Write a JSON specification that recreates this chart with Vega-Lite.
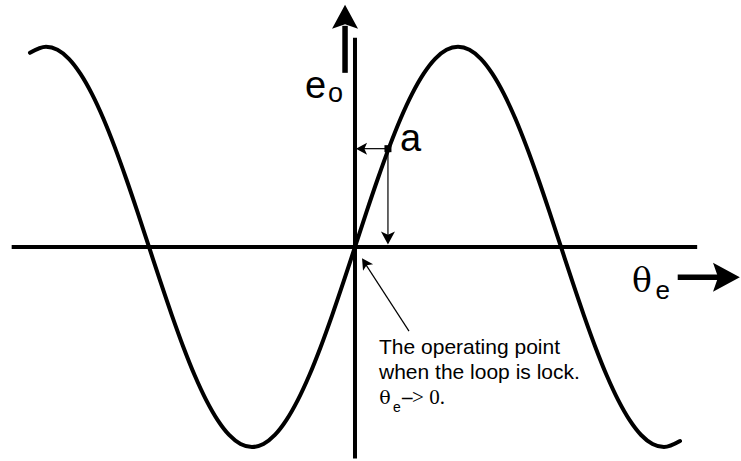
{
  "$schema": "https://vega.github.io/schema/vega-lite/v6.json",
  "width": 741,
  "height": 461,
  "autosize": {"type": "fit", "contains": "padding"},
  "padding": 0,
  "background": "white",
  "config": {"view": {"stroke": null}},
  "datasets": {
    "curve": [
      {"x": -284, "y": 0.97}, {"x": -270, "y": 1}, {"x": -260, "y": 0.985}, {"x": -250, "y": 0.94},
      {"x": -240, "y": 0.866}, {"x": -230, "y": 0.766}, {"x": -220, "y": 0.643}, {"x": -210, "y": 0.5},
      {"x": -200, "y": 0.342}, {"x": -190, "y": 0.174}, {"x": -180, "y": 0}, {"x": -170, "y": -0.174},
      {"x": -160, "y": -0.342}, {"x": -150, "y": -0.5}, {"x": -140, "y": -0.643}, {"x": -130, "y": -0.766},
      {"x": -120, "y": -0.866}, {"x": -110, "y": -0.94}, {"x": -100, "y": -0.985}, {"x": -90, "y": -1},
      {"x": -80, "y": -0.985}, {"x": -70, "y": -0.94}, {"x": -60, "y": -0.866}, {"x": -50, "y": -0.766},
      {"x": -40, "y": -0.643}, {"x": -30, "y": -0.5}, {"x": -20, "y": -0.342}, {"x": -10, "y": -0.174},
      {"x": 0, "y": 0}, {"x": 10, "y": 0.174}, {"x": 20, "y": 0.342}, {"x": 30, "y": 0.5},
      {"x": 40, "y": 0.643}, {"x": 50, "y": 0.766}, {"x": 60, "y": 0.866}, {"x": 70, "y": 0.94},
      {"x": 80, "y": 0.985}, {"x": 90, "y": 1}, {"x": 100, "y": 0.985}, {"x": 110, "y": 0.94},
      {"x": 120, "y": 0.866}, {"x": 130, "y": 0.766}, {"x": 140, "y": 0.643}, {"x": 150, "y": 0.5},
      {"x": 160, "y": 0.342}, {"x": 170, "y": 0.174}, {"x": 180, "y": 0}, {"x": 190, "y": -0.174},
      {"x": 200, "y": -0.342}, {"x": 210, "y": -0.5}, {"x": 220, "y": -0.643}, {"x": 230, "y": -0.766},
      {"x": 240, "y": -0.866}, {"x": 250, "y": -0.94}, {"x": 260, "y": -0.985}, {"x": 270, "y": -1},
      {"x": 284, "y": -0.97}
    ],
    "axes": [
      {"x": -300, "x2": 299, "y": 0, "y2": 0},
      {"x": 0, "x2": 0, "y": 1.045, "y2": -1.058}
    ],
    "shafts": [
      {"x": -8.7, "x2": -8.7, "y": 0.87, "y2": 1.105},
      {"x": 282, "x2": 318, "y": -0.152, "y2": -0.152}
    ],
    "upHead": [{"x": -8.7, "y": 1.145}],
    "rightHead": [{"x": 323.6, "y": -0.152}],
    "thin": [
      {"x": 28.8, "x2": 4, "y": 0.491, "y2": 0.491},
      {"x": 28.8, "x2": 28.8, "y": 0.491, "y2": 0.045},
      {"x": 47.2, "x2": 8.5, "y": -0.421, "y2": -0.08}
    ],
    "downHead": [{"x": 28.8, "y": 0.047}],
    "leftHead": [{"x": 6.1, "y": 0.491}],
    "noteHead": [{"x": 9.0, "y": -0.082}],
    "pointA": [{"x": 28.8, "y": 0.491}],
    "big": [{"x": -43.7, "y": 0.746, "t": "e"}, {"x": 39.3, "y": 0.481, "t": "a"}],
    "subO": [{"x": -23.6, "y": 0.726, "t": "o"}],
    "thetaBig": [{"x": 242, "y": -0.227, "t": "θ"}],
    "subE": [{"x": 262.5, "y": -0.262, "t": "e"}],
    "note": [
      {"x": 21, "y": -0.536, "t": "The operating point"},
      {"x": 21, "y": -0.661, "t": "when the loop is lock."}
    ],
    "noteTheta": [{"x": 21.2, "y": -0.786, "t": "θ"}],
    "noteDash": [{"x": 41.1, "y": -0.786, "t": "–"}],
    "noteSerif": [{"x": 49.9, "y": -0.786, "t": "> 0."}],
    "noteSub": [{"x": 33.2, "y": -0.825, "t": "e"}]
  },
  "layer": [
    {
      "data": {"name": "curve"},
      "mark": {"type": "line", "color": "black", "strokeWidth": 4, "interpolate": "monotone", "strokeCap": "round"},
      "encoding": {
        "x": {"field": "x", "type": "quantitative",
          "scale": {"domain": [-310.2, 337.3], "nice": false, "zero": false},
          "axis": {"orient": "top", "offset": -247.5, "domain": false, "labels": false, "title": null, "grid": false,
            "ticks": true, "tickSize": 5, "tickColor": "black", "tickWidth": 1,
            "values": [-283, -254.7, -226.4, -198.1, -169.8, -141.5, -113.2, -84.9, -56.6, -28.3, 28.3, 56.6, 84.9, 113.2, 141.5, 169.8, 198.1, 226.4, 254.7, 283]}},
        "y": {"field": "y", "type": "quantitative",
          "scale": {"domain": [-1.065, 1.234], "nice": false, "zero": false},
          "axis": {"orient": "right", "offset": -386, "domain": false, "labels": false, "title": null, "grid": false,
            "ticks": true, "tickSize": 5, "tickColor": "black", "tickWidth": 1,
            "values": [-1, -0.9, -0.8, -0.7, -0.6, -0.5, -0.4, -0.3, -0.2, -0.1, 0.1, 0.2, 0.3, 0.4, 0.5, 0.6, 0.7, 0.8, 0.9, 1]}}
      }
    },
    {
      "data": {"name": "axes"},
      "mark": {"type": "rule", "color": "black", "strokeWidth": 4, "strokeCap": "butt"},
      "encoding": {
        "x": {"field": "x", "type": "quantitative", "axis": null}, "x2": {"field": "x2"},
        "y": {"field": "y", "type": "quantitative", "axis": null}, "y2": {"field": "y2"}
      }
    },
    {
      "data": {"name": "shafts"},
      "mark": {"type": "rule", "color": "black", "strokeWidth": 5.5, "strokeCap": "butt"},
      "encoding": {
        "x": {"field": "x", "type": "quantitative", "axis": null}, "x2": {"field": "x2"},
        "y": {"field": "y", "type": "quantitative", "axis": null}, "y2": {"field": "y2"}
      }
    },
    {
      "data": {"name": "upHead"},
      "mark": {"type": "point", "shape": "M0,-1L1,0.85L0,0.5L-1,0.85Z", "size": 676, "filled": true, "color": "black", "opacity": 1, "strokeWidth": 0},
      "encoding": {
        "x": {"field": "x", "type": "quantitative", "axis": null},
        "y": {"field": "y", "type": "quantitative", "axis": null}
      }
    },
    {
      "data": {"name": "rightHead"},
      "mark": {"type": "point", "shape": "M0,-1L1,0.85L0,0.5L-1,0.85Z", "size": 840, "angle": 90, "filled": true, "color": "black", "opacity": 1, "strokeWidth": 0},
      "encoding": {
        "x": {"field": "x", "type": "quantitative", "axis": null},
        "y": {"field": "y", "type": "quantitative", "axis": null}
      }
    },
    {
      "data": {"name": "thin"},
      "mark": {"type": "rule", "color": "black", "strokeWidth": 1.2},
      "encoding": {
        "x": {"field": "x", "type": "quantitative", "axis": null}, "x2": {"field": "x2"},
        "y": {"field": "y", "type": "quantitative", "axis": null}, "y2": {"field": "y2"}
      }
    },
    {
      "data": {"name": "downHead"},
      "mark": {"type": "point", "shape": "M0,-1L1,0.85L0,0.4L-1,0.85Z", "size": 196, "angle": 180, "filled": true, "color": "black", "opacity": 1, "strokeWidth": 0},
      "encoding": {
        "x": {"field": "x", "type": "quantitative", "axis": null},
        "y": {"field": "y", "type": "quantitative", "axis": null}
      }
    },
    {
      "data": {"name": "leftHead"},
      "mark": {"type": "point", "shape": "M0,-1L1,0.85L0,0.4L-1,0.85Z", "size": 144, "angle": 270, "filled": true, "color": "black", "opacity": 1, "strokeWidth": 0},
      "encoding": {
        "x": {"field": "x", "type": "quantitative", "axis": null},
        "y": {"field": "y", "type": "quantitative", "axis": null}
      }
    },
    {
      "data": {"name": "noteHead"},
      "mark": {"type": "point", "shape": "M0,-1L1,0.85L0,0.4L-1,0.85Z", "size": 144, "angle": -33, "filled": true, "color": "black", "opacity": 1, "strokeWidth": 0},
      "encoding": {
        "x": {"field": "x", "type": "quantitative", "axis": null},
        "y": {"field": "y", "type": "quantitative", "axis": null}
      }
    },
    {
      "data": {"name": "pointA"},
      "mark": {"type": "point", "shape": "square", "size": 49, "filled": true, "color": "black", "opacity": 1, "strokeWidth": 0},
      "encoding": {
        "x": {"field": "x", "type": "quantitative", "axis": null},
        "y": {"field": "y", "type": "quantitative", "axis": null}
      }
    },
    {
      "data": {"name": "big"},
      "mark": {"type": "text", "font": "Liberation Sans", "fontSize": 38, "align": "left", "baseline": "alphabetic", "color": "black"},
      "encoding": {
        "x": {"field": "x", "type": "quantitative", "axis": null},
        "y": {"field": "y", "type": "quantitative", "axis": null},
        "text": {"field": "t"}
      }
    },
    {
      "data": {"name": "subO"},
      "mark": {"type": "text", "font": "Liberation Sans", "fontSize": 27, "align": "left", "baseline": "alphabetic", "color": "black"},
      "encoding": {
        "x": {"field": "x", "type": "quantitative", "axis": null},
        "y": {"field": "y", "type": "quantitative", "axis": null},
        "text": {"field": "t"}
      }
    },
    {
      "data": {"name": "thetaBig"},
      "mark": {"type": "text", "font": "DejaVu Serif", "fontSize": 33, "align": "left", "baseline": "alphabetic", "color": "black"},
      "encoding": {
        "x": {"field": "x", "type": "quantitative", "axis": null},
        "y": {"field": "y", "type": "quantitative", "axis": null},
        "text": {"field": "t"}
      }
    },
    {
      "data": {"name": "subE"},
      "mark": {"type": "text", "font": "Liberation Sans", "fontSize": 26, "align": "left", "baseline": "alphabetic", "color": "black"},
      "encoding": {
        "x": {"field": "x", "type": "quantitative", "axis": null},
        "y": {"field": "y", "type": "quantitative", "axis": null},
        "text": {"field": "t"}
      }
    },
    {
      "data": {"name": "note"},
      "mark": {"type": "text", "font": "Liberation Sans", "fontSize": 21, "align": "left", "baseline": "alphabetic", "color": "black"},
      "encoding": {
        "x": {"field": "x", "type": "quantitative", "axis": null},
        "y": {"field": "y", "type": "quantitative", "axis": null},
        "text": {"field": "t"}
      }
    },
    {
      "data": {"name": "noteTheta"},
      "mark": {"type": "text", "font": "DejaVu Serif", "fontSize": 19, "align": "left", "baseline": "alphabetic", "color": "black"},
      "encoding": {
        "x": {"field": "x", "type": "quantitative", "axis": null},
        "y": {"field": "y", "type": "quantitative", "axis": null},
        "text": {"field": "t"}
      }
    },
    {
      "data": {"name": "noteDash"},
      "mark": {"type": "text", "font": "Liberation Serif", "fontSize": 21, "fontWeight": "bold", "align": "left", "baseline": "alphabetic", "color": "black"},
      "encoding": {
        "x": {"field": "x", "type": "quantitative", "axis": null},
        "y": {"field": "y", "type": "quantitative", "axis": null},
        "text": {"field": "t"}
      }
    },
    {
      "data": {"name": "noteSerif"},
      "mark": {"type": "text", "font": "Liberation Serif", "fontSize": 21, "align": "left", "baseline": "alphabetic", "color": "black"},
      "encoding": {
        "x": {"field": "x", "type": "quantitative", "axis": null},
        "y": {"field": "y", "type": "quantitative", "axis": null},
        "text": {"field": "t"}
      }
    },
    {
      "data": {"name": "noteSub"},
      "mark": {"type": "text", "font": "Liberation Sans", "fontSize": 14, "align": "left", "baseline": "alphabetic", "color": "black"},
      "encoding": {
        "x": {"field": "x", "type": "quantitative", "axis": null},
        "y": {"field": "y", "type": "quantitative", "axis": null},
        "text": {"field": "t"}
      }
    }
  ]
}
